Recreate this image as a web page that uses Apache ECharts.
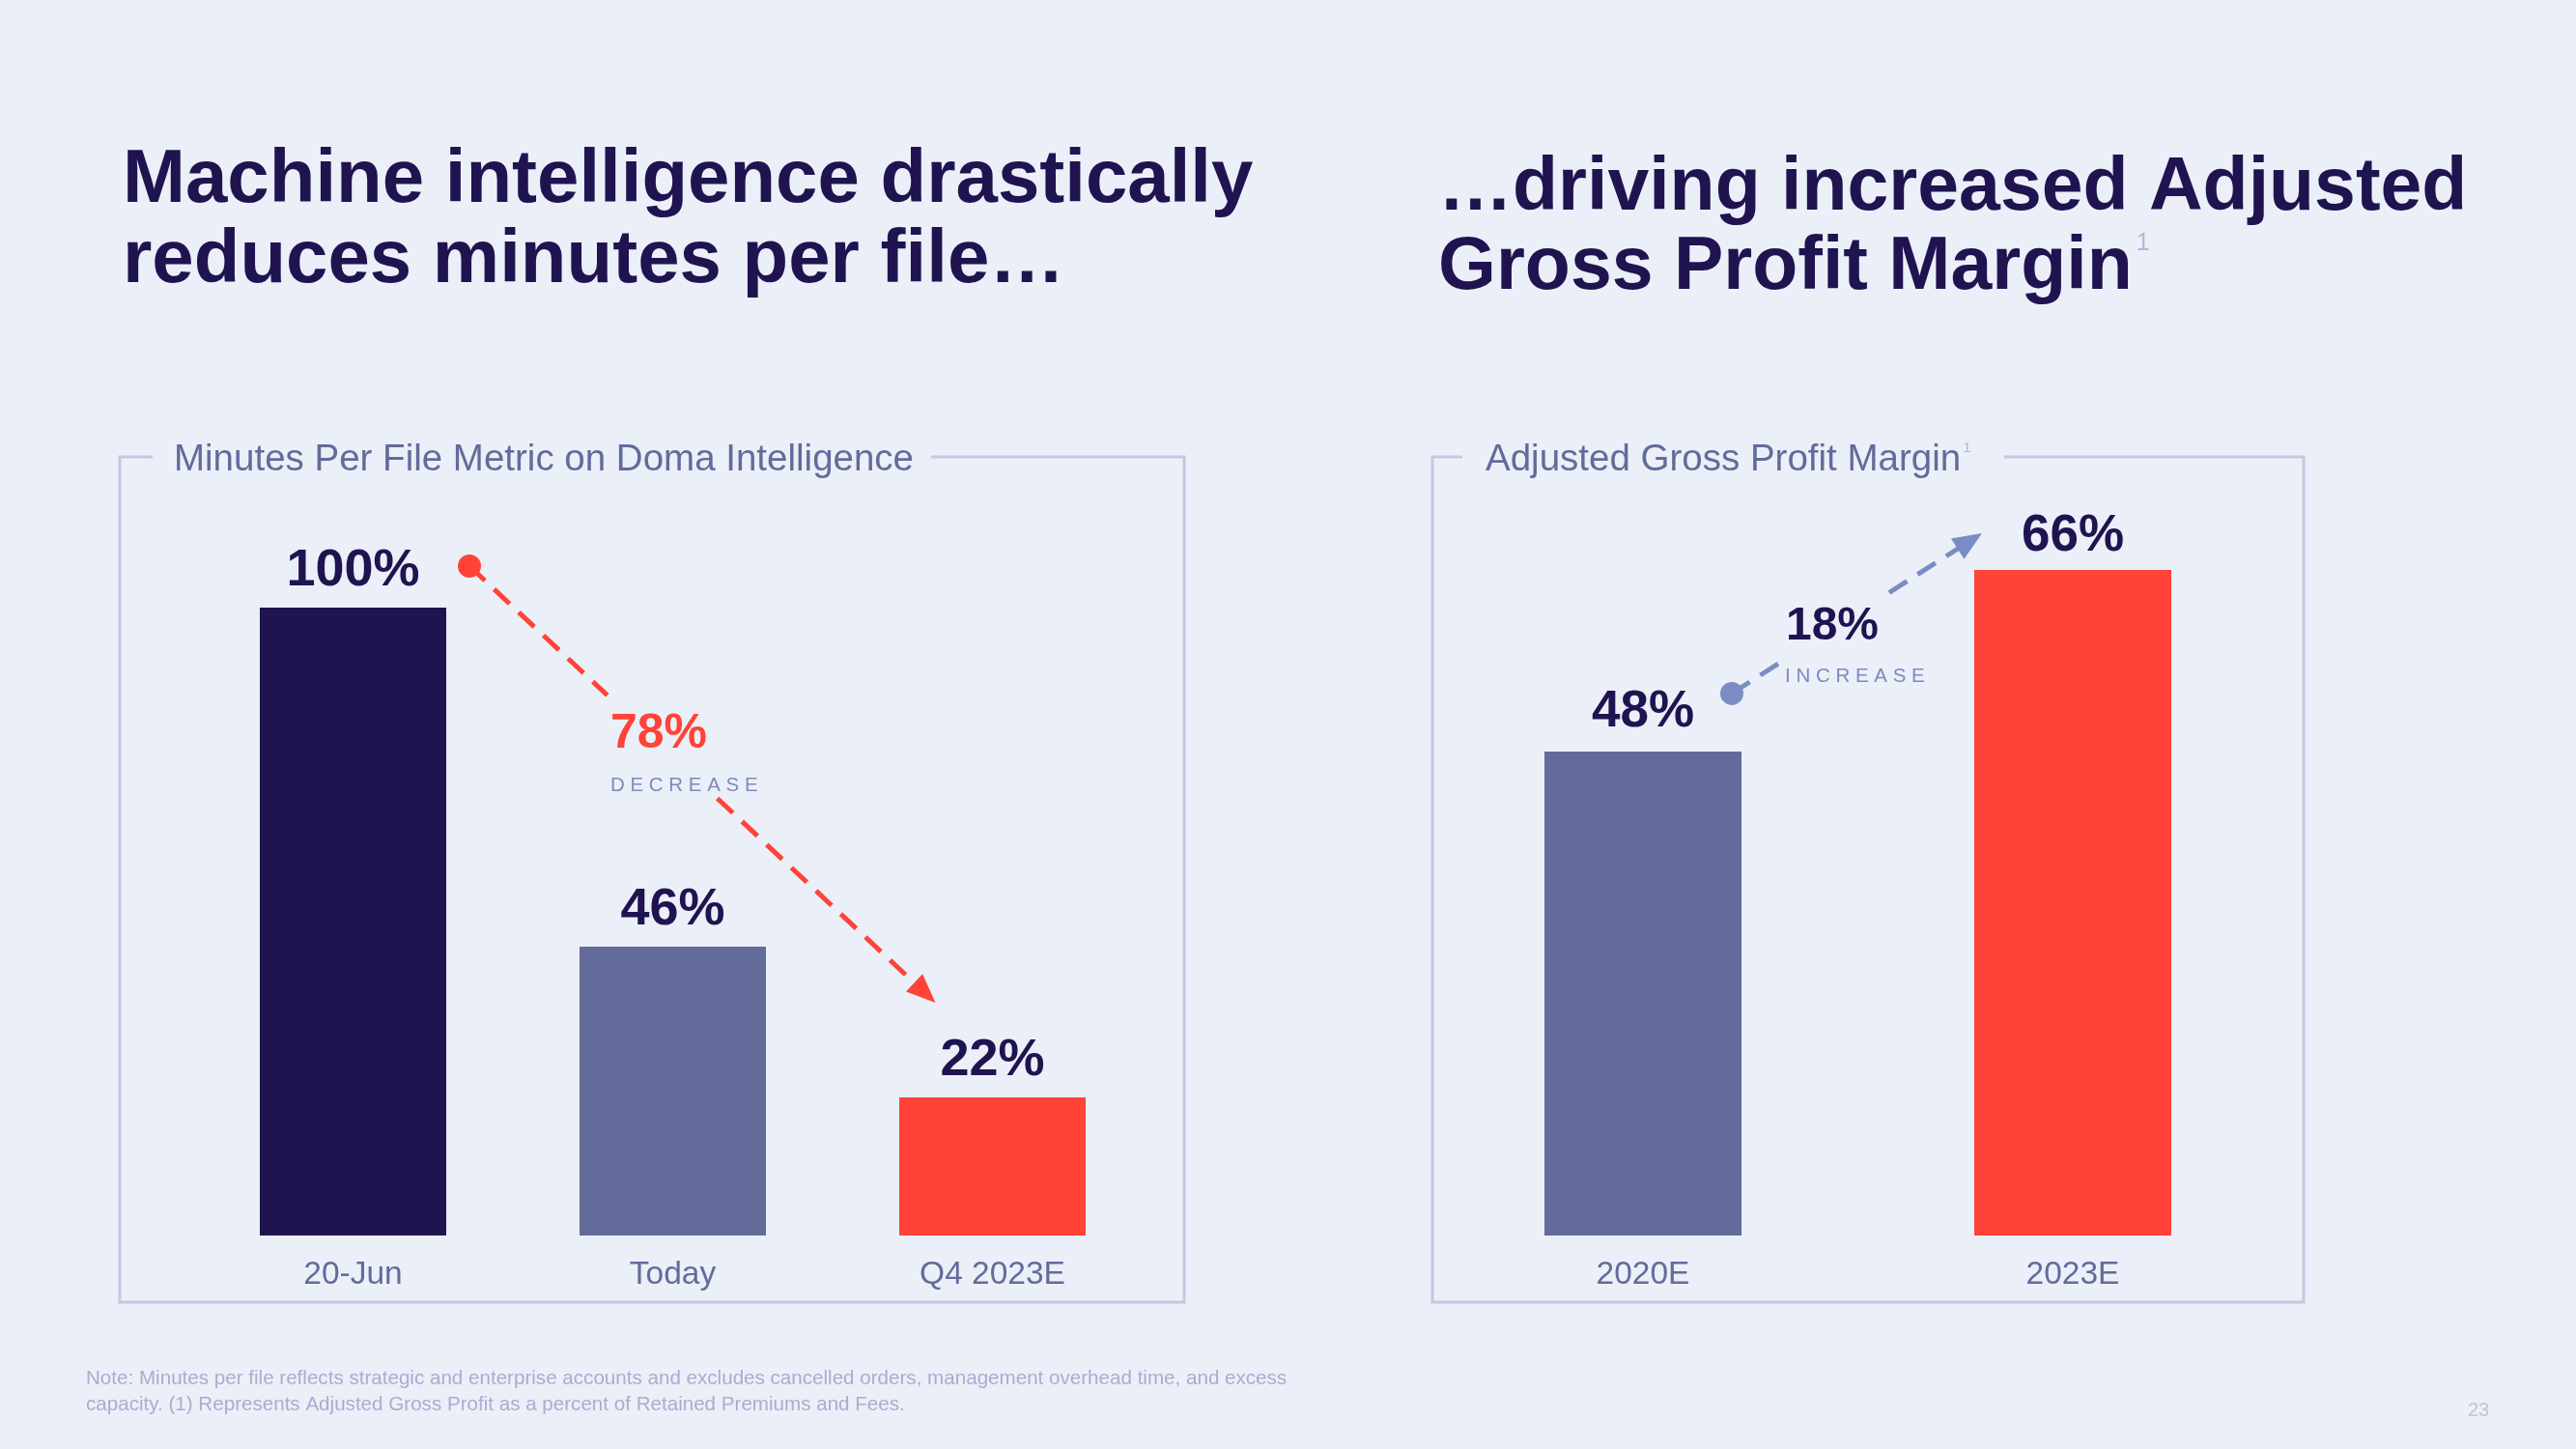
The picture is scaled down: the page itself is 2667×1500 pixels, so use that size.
<!DOCTYPE html>
<html><head><meta charset="utf-8">
<script src="https://cdn.jsdelivr.net/npm/echarts@6/dist/echarts.min.js"></script>
<style>html,body{margin:0;padding:0;background:#ebeff8;}#c{width:2667px;height:1500px;}</style>
</head><body><div id="c"></div>
<script>
// ---- data ----
const minutesCategories = ['20-Jun', 'Today', 'Q4 2023E'];
const minutesValues = [100, 46, 22];
const marginCategories = ['2020E', '2023E'];
const marginValues = [48, 66];
const leftTitle = ['Machine intelligence drastically', 'reduces minutes per file\u2026'];
const rightTitle = ['\u2026driving increased Adjusted', 'Gross Profit Margin'];
const leftBoxTitle = 'Minutes Per File Metric on Doma Intelligence';
const rightBoxTitle = 'Adjusted Gross Profit Margin';
const footnote = ['Note: Minutes per file reflects strategic and enterprise accounts and excludes cancelled orders, management overhead time, and excess',
  'capacity. (1) Represents Adjusted Gross Profit as a percent of Retained Premiums and Fees.'];
const pageNumber = '23';

// ---- style ----
const NAVY = '#1f1450', SLATE = '#636b9b', RED = '#ff4338', BLUE = '#7b8cc4', BG = '#ebeff8', BORDER = '#c3c8e3';
const FONT = "'Liberation Sans', Arial, sans-serif";
const minutesColors = [NAVY, SLATE, RED];
const marginColors = [SLATE, RED];
const marginLabelDist = [14, 8];

const chart = echarts.init(document.getElementById('c'), null, {renderer: 'canvas'});

const valueLabel = (size, dist) => ({
  show: true, position: 'top', distance: dist, color: NAVY, fontFamily: FONT,
  fontWeight: 'bold', fontSize: size, formatter: p => p.value + '%'
});
const catAxis = (idx, cats) => ({
  type: 'category', gridIndex: idx, data: cats,
  axisLine: {show: false}, axisTick: {show: false}, splitLine: {show: false},
  axisLabel: {color: SLATE, fontFamily: FONT, fontSize: 33.5, margin: 24}
});
const valAxis = idx => ({type: 'value', gridIndex: idx, min: 0, max: 100, show: false, splitLine: {show: false}});

chart.setOption({
  backgroundColor: BG,
  animation: false,
  grid: [
    {left: 200, width: 993, top: 629, height: 650},
    {left: 1478.5, width: 890, top: 235, height: 1044}
  ],
  xAxis: [catAxis(0, minutesCategories), catAxis(1, marginCategories)],
  yAxis: [valAxis(0), valAxis(1)],
  series: [
    {type: 'bar', xAxisIndex: 0, yAxisIndex: 0, barWidth: 193,
     data: minutesValues.map((v, i) => ({value: v, itemStyle: {color: minutesColors[i]}})),
     label: valueLabel(54, 11)},
    {type: 'bar', xAxisIndex: 1, yAxisIndex: 1, barWidth: 204,
     data: marginValues.map((v, i) => ({value: v, itemStyle: {color: marginColors[i]}, label: {distance: marginLabelDist[i]}})),
     label: valueLabel(53, 14)}
  ]
});

// ---- annotations positioned from the axes ----
const p0 = chart.convertToPixel({gridIndex: 0}, [0, minutesValues[0]]);
const p2 = chart.convertToPixel({gridIndex: 0}, [2, minutesValues[2]]);
const q0 = chart.convertToPixel({gridIndex: 1}, [0, marginValues[0]]);
const q1 = chart.convertToPixel({gridIndex: 1}, [1, marginValues[1]]);

const decrease = Math.round((minutesValues[0] - minutesValues[2]) / minutesValues[0] * 100);
const increase = marginValues[1] - marginValues[0];

function arrow(S, T, t1, t2, color) {
  const dx = T[0] - S[0], dy = T[1] - S[1], len = Math.hypot(dx, dy);
  const u = [dx / len, dy / len], n = [-u[1], u[0]];
  const L = 30, W = 12.5;
  const base = [T[0] - L * u[0], T[1] - L * u[1]];
  const at = t => [S[0] + dx * t, S[1] + dy * t];
  const a = at(t1), b = at(t2);
  const ls = {stroke: color, lineWidth: 5, lineDash: [22, 13]};
  return [
    {type: 'line', z: 10, shape: {x1: S[0], y1: S[1], x2: a[0], y2: a[1]}, style: ls},
    {type: 'line', z: 10, shape: {x1: b[0], y1: b[1], x2: base[0] + 2 * u[0], y2: base[1] + 2 * u[1]}, style: ls},
    {type: 'polygon', z: 11, shape: {points: [T, [base[0] + W * n[0], base[1] + W * n[1]], [base[0] - W * n[0], base[1] - W * n[1]]]}, style: {fill: color}},
    {type: 'circle', z: 11, shape: {cx: S[0], cy: S[1], r: 12}, style: {fill: color}}
  ];
}

const redS = [p0[0] + 120.5, p0[1] - 43];
const redT = [p2[0] - 59, p2[1] - 98];
const blueS = [q0[0] + 92, q0[1] - 60];
const blueT = [q1[0] - 94, q1[1] - 38];

const txt = (x, y, text, o) => ({type: 'text', x: x, y: y, z: 20,
  style: Object.assign({text: text, fontFamily: FONT, align: 'left', verticalAlign: 'middle'}, o)});

const graphics = [
  {type: 'rect', z: 1, shape: {x: 124, y: 473, width: 1102, height: 875}, style: {fill: 'none', stroke: BORDER, lineWidth: 3}},
  {type: 'rect', z: 1, shape: {x: 1483, y: 473, width: 902, height: 875}, style: {fill: 'none', stroke: BORDER, lineWidth: 3}},
  txt(158, 476, leftBoxTitle, {fontSize: 38.5, fill: SLATE, backgroundColor: BG, padding: [4, 18, 4, 22]}),
  {type: 'text', x: 1514, y: 476, z: 20, style: {
    text: rightBoxTitle + '{sup|1}', fontFamily: FONT, fontSize: 38.5, fill: SLATE, align: 'left', verticalAlign: 'middle',
    backgroundColor: BG, padding: [4, 34, 4, 24],
    rich: {sup: {fontSize: 15, fill: '#b4b8d6', fontFamily: FONT, verticalAlign: 'top', padding: [0, 0, 0, 2]}}}},
  txt(127, 187, leftTitle[0], {fontSize: 78, fontWeight: 'bold', fill: NAVY}),
  txt(127, 270.5, leftTitle[1], {fontSize: 78, fontWeight: 'bold', fill: NAVY}),
  txt(1489, 196, rightTitle[0], {fontSize: 77, fontWeight: 'bold', fill: NAVY}),
  {type: 'text', x: 1489, y: 278, z: 20, style: {
    text: rightTitle[1] + '{sup|1}', fontFamily: FONT, fontSize: 77, fontWeight: 'bold', fill: NAVY, align: 'left', verticalAlign: 'middle',
    rich: {sup: {fontSize: 25, fill: '#b4b8d6', fontFamily: FONT, fontWeight: 'normal', verticalAlign: 'top', padding: [0, 0, 0, 4]}}}},
  ...arrow(redS, redT, 0.296, 0.532, RED),
  ...arrow(blueS, blueT, 0.197, 0.629, BLUE),
  txt(redS[0] + 146, redS[1] + 174, decrease + '%', {fontSize: 50, fontWeight: 'bold', fill: RED}),
  txt(redS[0] + 146, redS[1] + 227, 'D E C R E A S E', {fontSize: 20.5, fill: '#7d8bbd'}),
  txt(blueS[0] + 104, blueS[1] - 69.5, increase + '%', {fontSize: 48, fontWeight: 'bold', fill: NAVY, align: 'center'}),
  txt(blueS[0] + 55, blueS[1] - 17.5, 'I N C R E A S E', {fontSize: 20.5, fill: '#7d8bbd'}),
  txt(89, 1427.5, footnote[0], {fontSize: 20.6, fill: '#a9add0'}),
  txt(89, 1454.5, footnote[1], {fontSize: 20.6, fill: '#a9add0'}),
  txt(2566, 1460, pageNumber, {fontSize: 20, fill: '#c0c3d3', align: 'center'})
];
chart.setOption({graphic: {elements: graphics}});
</script>
</body></html>
